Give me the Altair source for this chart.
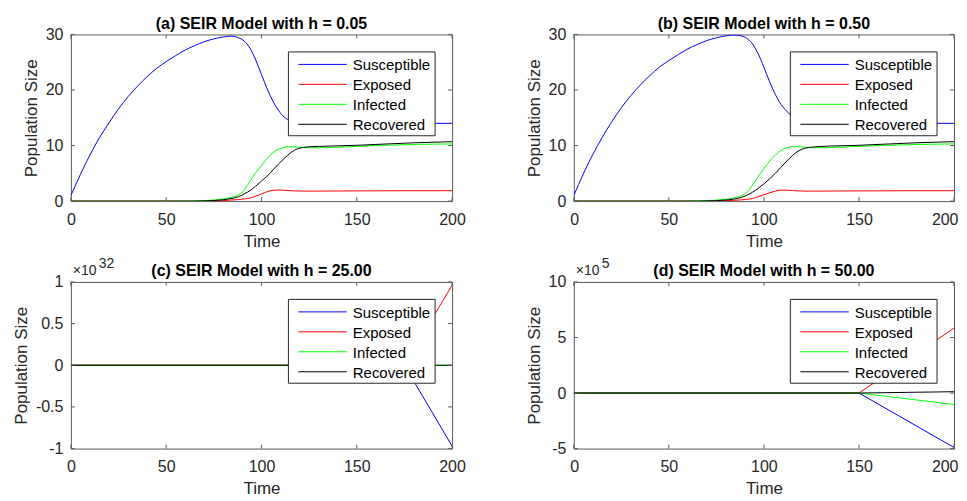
import altair as alt
import pandas as pd

SERIES = ["Susceptible", "Exposed", "Infected", "Recovered"]
COLORS = ["#0000ff", "#ff0000", "#00ff00", "#000000"]

TITLES = ["(a) SEIR Model with h = 0.05", "(b) SEIR Model with h = 0.50",
          "(c) SEIR Model with h = 25.00", "(d) SEIR Model with h = 50.00"]
EXPONENTS = ["", "", "32", "5"]

X_TICKS = [0, 50, 100, 150, 200]
Y_TICKS_AB = [0, 10, 20, 30]
Y_TICKS_C = [-1, -0.5, 0, 0.5, 1]
Y_TICKS_D = [-5, 0, 5, 10]

# time grid of panels (a) and (b)
T_AB = [0, 5, 10, 15, 20, 25, 30, 35, 40, 45, 50, 55, 60, 65, 70, 75, 80,
        84, 88, 91, 94, 97, 100, 103, 106, 109, 112, 115, 118, 122, 126, 130,
        140, 150, 160, 170, 180, 190, 200]

S_A = [1.0, 4.8, 8.3, 11.4, 14.1, 16.6, 18.8, 20.7, 22.4, 23.9, 25.1, 26.2, 27.2, 28.0, 28.7, 29.2, 29.55,
       29.7, 29.4, 28.8, 27.5, 25.4, 22.8, 20.2, 18.0, 16.3, 15.1, 14.5, 14.2, 14.05, 14.0, 14.0,
       14.0, 14.0, 14.0, 14.0, 14.0, 14.0, 14.0]
E_A = [0, 0, 0, 0, 0, 0, 0, 0, 0, 0, 0, 0, 0, 0, 0, 0.03, 0.1,
       0.18, 0.28, 0.4, 0.55, 0.9, 1.3, 1.7, 1.95, 2.0, 1.95, 1.88, 1.83, 1.8, 1.8, 1.8,
       1.82, 1.84, 1.85, 1.86, 1.87, 1.87, 1.88]
I_A = [0, 0, 0, 0, 0, 0, 0, 0, 0, 0, 0, 0, 0, 0.05, 0.1, 0.2, 0.4,
       0.65, 1.15, 2.0, 3.6, 5.1, 6.4, 7.7, 8.7, 9.35, 9.7, 9.8, 9.75, 9.65, 9.6, 9.6,
       9.7, 9.85, 10.0, 10.1, 10.2, 10.25, 10.3]
R_A = [0, 0, 0, 0, 0, 0, 0, 0, 0, 0, 0, 0, 0, 0, 0.05, 0.1, 0.25,
       0.45, 0.8, 1.3, 1.9, 2.7, 3.6, 4.5, 5.6, 6.7, 7.7, 8.6, 9.3, 9.65, 9.8, 9.85,
       9.95, 10.05, 10.2, 10.35, 10.5, 10.6, 10.7]

S_B = [1.0, 4.9, 8.4, 11.5, 14.3, 16.8, 19.0, 20.9, 22.6, 24.1, 25.3, 26.4, 27.4, 28.2, 28.9, 29.4, 29.75,
       29.9, 29.75, 29.3, 28.3, 26.5, 24.1, 21.5, 19.2, 17.4, 16.2, 15.2, 14.5, 14.15, 14.0, 14.0,
       14.0, 14.0, 14.0, 14.0, 14.0, 14.0, 14.0]
E_B = [0, 0, 0, 0, 0, 0, 0, 0, 0, 0, 0, 0, 0, 0, 0, 0.02, 0.08,
       0.14, 0.22, 0.32, 0.48, 0.8, 1.15, 1.5, 1.8, 1.98, 1.98, 1.9, 1.84, 1.8, 1.8, 1.8,
       1.82, 1.84, 1.85, 1.86, 1.87, 1.87, 1.88]
I_B = [0, 0, 0, 0, 0, 0, 0, 0, 0, 0, 0, 0, 0, 0.05, 0.1, 0.18, 0.35,
       0.55, 0.95, 1.6, 2.9, 4.4, 5.9, 7.2, 8.3, 9.1, 9.6, 9.8, 9.8, 9.7, 9.6, 9.6,
       9.7, 9.85, 10.0, 10.1, 10.2, 10.25, 10.3]
R_B = [0, 0, 0, 0, 0, 0, 0, 0, 0, 0, 0, 0, 0, 0, 0.04, 0.08, 0.2,
       0.35, 0.65, 1.05, 1.6, 2.3, 3.1, 4.0, 5.0, 6.1, 7.2, 8.2, 9.0, 9.55, 9.75, 9.85,
       9.95, 10.05, 10.2, 10.35, 10.5, 10.6, 10.7]

# panel (c): values in units of 1e32
T_C = [0, 25, 50, 75, 100, 125, 150, 175, 200]
S_C = [0, 0, 0, 0, 0, 0, 0, 0, -0.97]
E_C = [0, 0, 0, 0, 0, 0, 0, 0, 0.96]
I_C = [0, 0, 0, 0, 0, 0, 0, 0, 0]
R_C = [0, 0, 0, 0, 0, 0, 0, 0, 0]

# panel (d): values in units of 1e5
T_D = [0, 50, 100, 150, 200]
S_D = [0, 0, 0, 0, -4.9]
E_D = [0, 0, 0, 0, 5.84]
I_D = [0, 0, 0, 0, -1.03]
R_D = [0, 0, 0, 0, 0.12]

FONT = "Liberation Sans"
AX = "#5a5a5a"
TXT = "#262626"
TICK_LEN = 4


def panel(idx, t, cols, y_dom, y_ticks, w, h, interp):
    xs = alt.Scale(domain=[0, 200], nice=False, zero=False)
    ys = alt.Scale(domain=y_dom, nice=False, zero=False)
    if idx % 2 == 1:
        xax = alt.Axis(values=X_TICKS, labelExpr="'' + datum.value", title="Time",
                       labelFlush=True, labelFlushOffset=4)
    else:
        xax = alt.Axis(values=X_TICKS, labelExpr="'' + datum.value", title="Time")
    yax = alt.Axis(values=y_ticks, labelExpr="'' + datum.value", title="Population Size")

    def X(f):
        return alt.X(f, type="quantitative", scale=xs, axis=xax)

    def Y(f):
        return alt.Y(f, type="quantitative", scale=ys, axis=yax)

    cs = alt.Scale(domain=SERIES, range=COLORS)
    layers = []
    for name, vals in zip(SERIES, cols):
        df = pd.DataFrame({"time": t, "value": vals, "series": name})
        layers.append(
            alt.Chart(df).mark_line(strokeWidth=1, interpolate=interp, clip=True).encode(
                x=X("time"), y=Y("value"),
                color=alt.Color("series:N", scale=cs, legend=None)))
    xt = pd.DataFrame({"time": X_TICKS})
    yt = pd.DataFrame({"value": y_ticks})
    layers.append(alt.Chart(xt).mark_rule(color=AX, strokeWidth=1).encode(
        x=X("time"), y=alt.value(h), y2=alt.value(h - TICK_LEN)))
    layers.append(alt.Chart(xt).mark_rule(color=AX, strokeWidth=1).encode(
        x=X("time"), y=alt.value(0), y2=alt.value(TICK_LEN)))
    layers.append(alt.Chart(yt).mark_rule(color=AX, strokeWidth=1).encode(
        y=Y("value"), x=alt.value(0), x2=alt.value(TICK_LEN)))
    layers.append(alt.Chart(yt).mark_rule(color=AX, strokeWidth=1).encode(
        y=Y("value"), x=alt.value(w), x2=alt.value(w - TICK_LEN)))

    # legend box
    layers.append(alt.Chart(alt.Data(values=[{}])).mark_rect(
        fill="white", stroke=TXT, strokeWidth=1).encode(
        x=alt.value(w - 164), x2=alt.value(w - 17),
        y=alt.value(17.5), y2=alt.value(101.5)))
    for i, name in enumerate(SERIES):
        ld = pd.DataFrame({"series": [name]})
        layers.append(alt.Chart(ld).mark_rule(strokeWidth=1).encode(
            x=alt.value(w - 154), x2=alt.value(w - 105.5),
            y=alt.value(30 + 20 * i),
            color=alt.Color("series:N", scale=cs, legend=None)))
        layers.append(alt.Chart(ld).mark_text(
            align="left", baseline="alphabetic", font=FONT, fontSize=15, color="black").encode(
            x=alt.value(w - 99.5), y=alt.value(36 + 20 * i), text="series:N"))

    # panel title
    td = pd.DataFrame({"title": [TITLES[idx]]})
    layers.append(alt.Chart(td).mark_text(
        align="center", baseline="alphabetic", font=FONT, fontSize=16,
        fontWeight="bold", color="black").encode(
        x=alt.value(w / 2), y=alt.value(-5.5), text="title:N"))

    exp = EXPONENTS[idx]
    if exp:
        ed = pd.DataFrame({"base": ["\u00d710"], "exp": [exp]})
        layers.append(alt.Chart(ed).mark_text(
            align="left", baseline="alphabetic", font=FONT, fontSize=14, color=TXT).encode(
            x=alt.value(2), y=alt.value(-7), text="base:N"))
        layers.append(alt.Chart(ed).mark_text(
            align="left", baseline="alphabetic", font=FONT, fontSize=14, color=TXT).encode(
            x=alt.value(28), y=alt.value(-14), text="exp:N"))

    return alt.layer(*layers).properties(width=w, height=h)


pa = panel(0, T_AB, [S_A, E_A, I_A, R_A], [0, 30], Y_TICKS_AB, 382, 167, "monotone")
pb = panel(1, T_AB, [S_B, E_B, I_B, R_B], [0, 30], Y_TICKS_AB, 381, 167, "monotone")
pc = panel(2, T_C, [S_C, E_C, I_C, R_C], [-1, 1], Y_TICKS_C, 382, 167, "linear")
pd_ = panel(3, T_D, [S_D, E_D, I_D, R_D], [-5, 10], Y_TICKS_D, 381, 167, "linear")

chart = alt.concat(pa, pb, pc, pd_, columns=2, spacing={"row": 81, "column": 122},
                   bounds="flush").properties(
    padding={"left": 3, "top": 7, "right": 0, "bottom": 0}
).configure_axis(
    domain=False, ticks=False, tickSize=0, grid=False,
    labelFont=FONT, labelFontSize=16, labelColor=TXT, labelFlush=False, labelOverlap=False,
    titleFont=FONT, titleFontSize=17, titleFontWeight="normal", titleColor=TXT
).configure_axisX(labelPadding=10, titlePadding=6
).configure_axisY(labelPadding=8, titlePadding=5
).configure_view(stroke=AX, strokeWidth=1)

chart.save("out.html", embed_options={"renderer": "svg", "actions": False})
